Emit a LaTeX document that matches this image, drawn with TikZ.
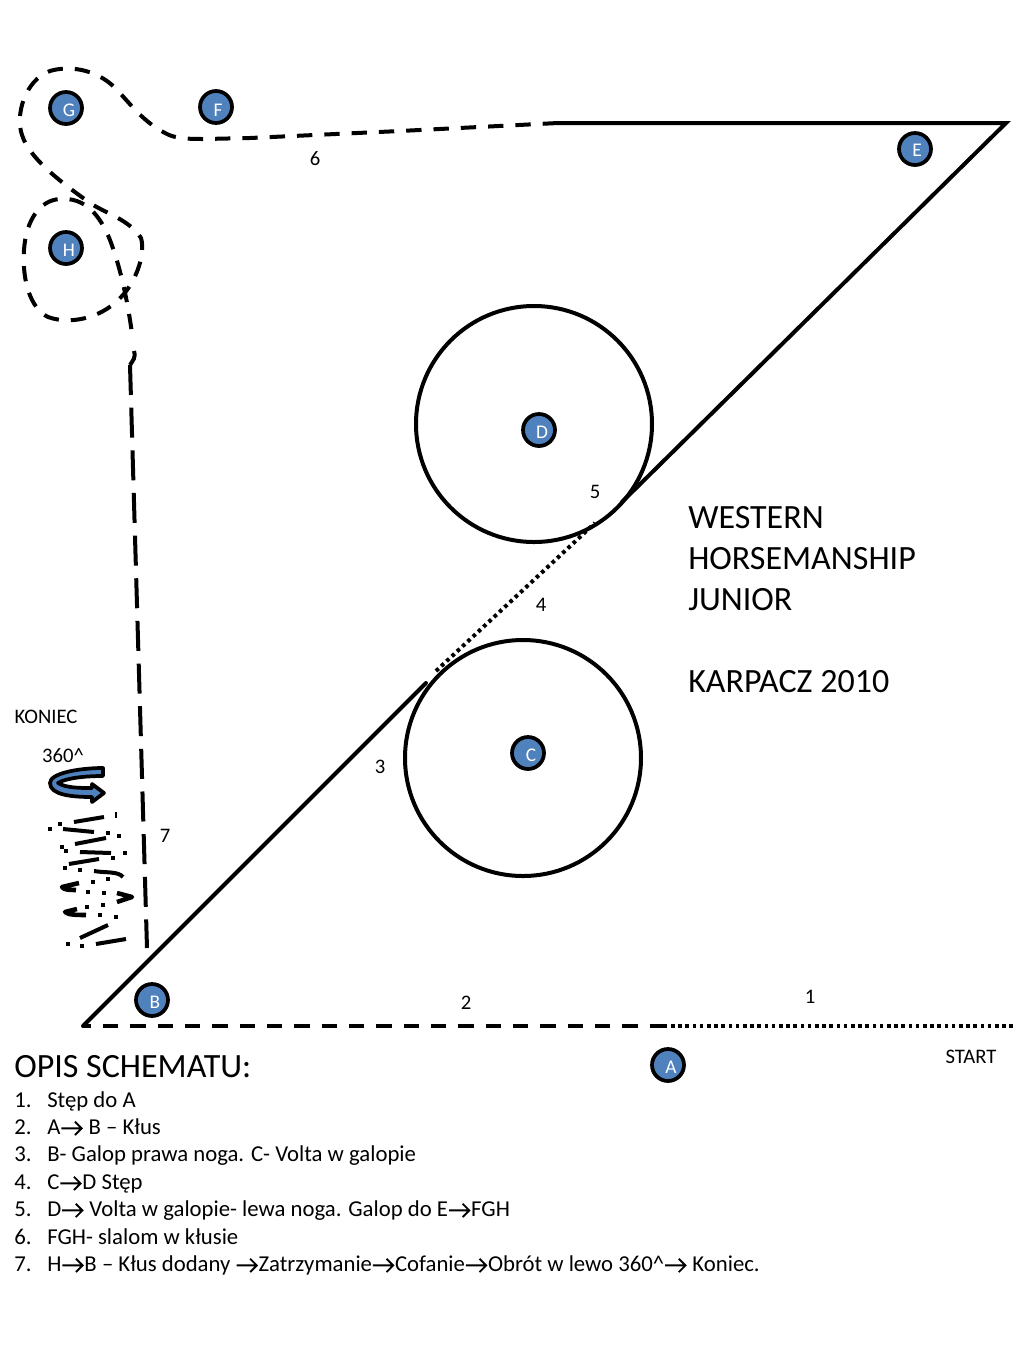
\documentclass[tikz,border=0pt]{standalone}
\usepackage{fontspec}
\setmainfont{Carlito}
\newcommand{\arr}{\tikz[x=1pt,y=1pt,baseline=0pt]{\path (0,0) -- (17.2,0);\draw[line width=1.4pt,line join=miter] (0.6,4.2) -- (15.8,4.2) (10.8,9.2) -- (15.8,4.2) -- (10.8,-0.8);}}
\definecolor{stationblue}{HTML}{4F81BD}
\tikzset{
 x=0.75pt,y=-0.75pt,
 station/.style={circle,draw=black,line width=2.8pt,fill=stationblue,minimum size=24pt,inner sep=0pt,text=white},
 stationtext/.style={text=white,inner sep=0pt,font=\fontsize{14.5}{15}\selectfont},
 solidline/.style={line width=3pt,line cap=round},
 bigcircle/.style={solidline,draw=black,circle,minimum size=177pt,inner sep=0pt},
 dotline/.style={line width=3pt,dash pattern=on 2.7pt off 2.7pt},
 longdash/.style={line width=3pt,dash pattern=on 22.5pt off 9.5pt},
 curvedash/.style={line width=3pt,dash pattern=on 11.5pt off 9pt},
 label/.style={inner sep=0pt,font=\fontsize{15.5}{18}\selectfont},
 bigtext/.style={inner sep=0pt,anchor=west,font=\fontsize{25.5}{30}\selectfont},
 listtext/.style={inner sep=0pt,anchor=base west,font=\fontsize{17.05}{20}\selectfont},
 scrap/.style={line width=3pt},
 blob/.style={line width=3.4pt},
 speck/.style={fill=black,inner sep=0pt,minimum size=3.4pt,rectangle},
}
\begin{document}
\begin{tikzpicture}
\useasboundingbox (0,0) rectangle (1024,1365);
% anchors of the course
\coordinate (end1) at (1013,1026);
\coordinate (pA) at (665,1026);
\coordinate (pB) at (83,1026);
\coordinate (cIn) at (426,683);
\coordinate (cOut) at (436,671);
\coordinate (dIn) at (595,523);
\coordinate (dOut) at (622,502);
\coordinate (pE) at (1006,123);
\coordinate (pF) at (558,123);
\coordinate (pH) at (130,365);
\coordinate (pEnd) at (147,948);
% circles
\node[bigcircle] (circC) at (523,758) {};
\node[bigcircle] (circD) at (534,424) {};
% course
\draw[dotline] (end1) -- (pA);
\draw[curvedash] (pA) -- (pB);
\draw[solidline] (pB) -- (cIn);
\draw[dotline] (cOut) -- (dIn);
\draw[solidline,line join=miter] (dOut) -- (pE) -- (pF);
\draw[curvedash] (pF) -- (400,131) -- (250,138) -- (205,139) .. controls (190,139) and (175,139) .. (165,133)
 .. controls (140,120) and (128,100) .. (112,85)
 .. controls (95,70) and (70,65) .. (50,71)
 .. controls (25,80) and (15,115) .. (22,135)
 .. controls (30,160) and (65,185) .. (90,203)
 .. controls (105,213) and (130,220) .. (141,238)
 .. controls (146,255) and (135,285) .. (118,300)
 .. controls (100,318) and (70,325) .. (48,317)
 .. controls (30,308) and (22,280) .. (24,250)
 .. controls (26,220) and (40,200) .. (60,199)
 .. controls (85,197) and (100,215) .. (110,240)
 .. controls (125,280) and (130,320) .. (133,340);
\draw[line width=3pt] (134,351) .. controls (136,358) and (133,360) .. (pH);
\draw[longdash] (pH) -- (pEnd);
% stations
\node[station] (A) at (668,1065) {};
\node[stationtext] (tA) at (671,1067) {A};
\node[station] (B) at (152,1000) {};
\node[stationtext] (tB) at (155,1002) {B};
\node[station] (C) at (528,753) {};
\node[stationtext] (tC) at (531,755) {C};
\node[station] (D) at (539,430) {};
\node[stationtext] (tD) at (542,432) {D};
\node[station] (E) at (915,149) {};
\node[stationtext] (tE) at (917,150) {E};
\node[station] (F) at (216,107) {};
\node[stationtext] (tF) at (218,110) {F};
\node[station] (G) at (66,108) {};
\node[stationtext] (tG) at (69,110) {G};
\node[station] (H) at (66,248) {};
\node[stationtext] (tH) at (69,250) {H};
% number labels
\node[label] (n1) at (810,997) {1};
\node[label] (n2) at (466,1003) {2};
\node[label] (n3) at (380,767) {3};
\node[label] (n4) at (541,605) {4};
\node[label] (n5) at (595,492) {5};
\node[label] (n6) at (315,159) {6};
\node[label] (n7) at (165,836) {7};
\node[label] (start) at (971,1057) {START};
\node[label] (koniec) at (46,717) {KONIEC};
\node[label] (deg) at (63,756) {360\^{}};
% title
\node[bigtext] (t1) at (688,518) {WESTERN};
\node[bigtext] (t2) at (688,559) {HORSEMANSHIP};
\node[bigtext] (t3) at (688,600) {JUNIOR};
\node[bigtext] (t4) at (688,682) {KARPACZ 2010};
% rotation arrow
\path[draw=black,line width=2.8pt,fill=stationblue,line join=round]
 (103,768) -- (103,776) .. controls (85,776) and (66,778) .. (58,783)
 .. controls (66,788) and (80,788) .. (92,788) -- (92,784) -- (104,793) -- (92,802) -- (92,797)
 .. controls (72,797) and (50,795) .. (50,783) .. controls (50,773) and (80,768) .. (103,768) -- cycle;
% broken zig-zag
\foreach \ax/\ay/\bx/\by in {74/822/104/817, 63/829/94/832, 75/844/106/838, 80/852/111/853, 69/864/99/859}
 \draw[scrap] (\ax,\ay) -- (\bx,\by);
\draw[scrap] (94,871) .. controls (105,873) and (118,871) .. (123,877);
\draw[blob,line join=round] (79,883) -- (62,887) .. controls (64,890) and (70,890) .. (76,890);
\draw[blob,line join=round] (117,893) -- (132,897) -- (117,902);
\draw[blob,line join=round] (77,909) -- (65,912) .. controls (68,915) and (78,915) .. (86,915);
\draw[scrap] (80,938) -- (108,925);
\draw[scrap] (96,944) -- (126,939);
\foreach \sx/\sy [count=\i] in {60/824, 50/829, 108/833, 119/836, 62/847, 66/851, 113/858, 125/853, 65/868, 80/870, 93/882, 108/879, 88/892, 104/893, 87/907, 103/905, 100/915, 116/917, 68/944, 82/946}
 \node[speck] (s\i) at (\sx,\sy) {};
\node[speck,minimum width=1.2pt,minimum height=4pt] (s0) at (116,815) {};
% text
\node[bigtext] (head) at (14,1067) {OPIS SCHEMATU:};
\node[listtext] (l1n) at (14,1107) {1.};
\node[listtext] (l1) at (47,1107) {Stęp do A};
\node[listtext] (l2n) at (14,1134) {2.};
\node[listtext] (l2) at (47,1134) {A\arr{} B – Kłus};
\node[listtext] (l3n) at (14,1161) {3.};
\node[listtext] (l3) at (47,1161) {B- Galop prawa noga. C- Volta w galopie};
\node[listtext] (l4n) at (14,1189) {4.};
\node[listtext] (l4) at (47,1189) {C\arr{}D Stęp};
\node[listtext] (l5n) at (14,1216) {5.};
\node[listtext] (l5) at (47,1216) {D\arr{} Volta w galopie- lewa noga. Galop do E\arr{}FGH};
\node[listtext] (l6n) at (14,1244) {6.};
\node[listtext] (l6) at (47,1244) {FGH- slalom w kłusie};
\node[listtext] (l7n) at (14,1271) {7.};
\node[listtext] (l7) at (47,1271) {H\arr{}B – Kłus dodany \arr{}Zatrzymanie\arr{}Cofanie\arr{}Obrót w lewo 360\^{}\arr{} Koniec.};
\end{tikzpicture}
\end{document}
